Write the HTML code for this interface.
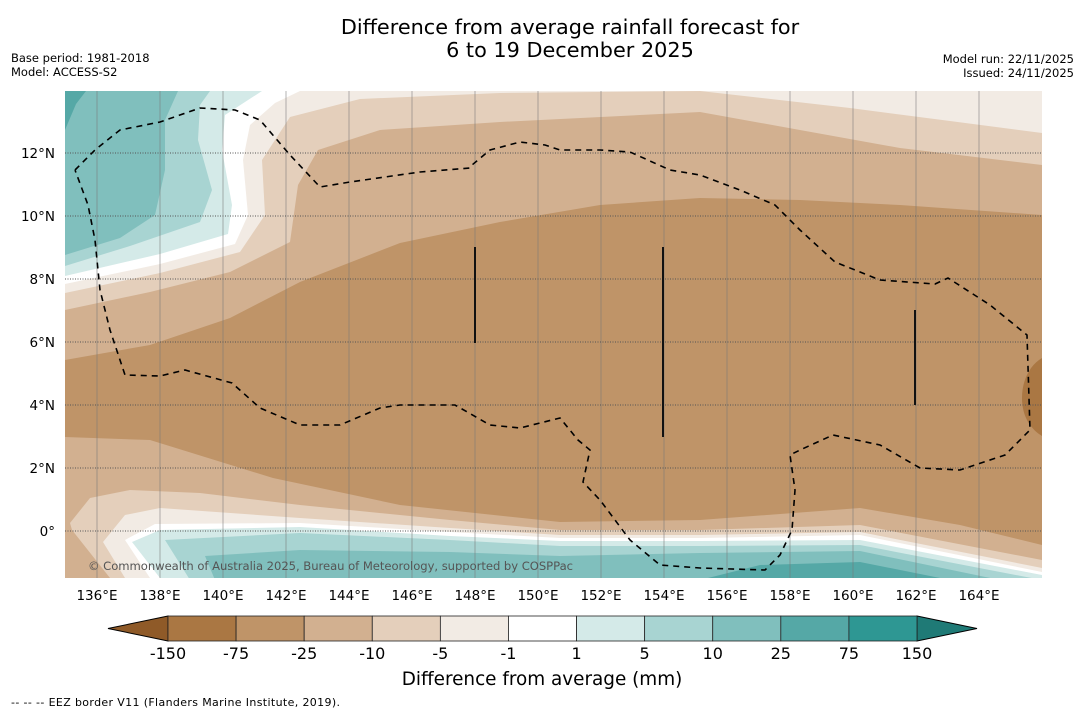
<!DOCTYPE html>
<html><head><meta charset="utf-8">
<style>
body{margin:0;background:#fff;width:1085px;height:713px;overflow:hidden;font-family:"DejaVu Sans","Liberation Sans",sans-serif;}
svg text{font-family:"DejaVu Sans","Liberation Sans",sans-serif;}
</style></head><body>
<svg id="chart" width="1085" height="713" viewBox="0 0 1085 713">
<text x="570" y="34" font-size="20.8" text-anchor="middle">Difference from average rainfall forecast for</text>
<text x="570" y="57" font-size="20.8" text-anchor="middle">6 to 19 December 2025</text>
<text x="11" y="62" font-size="11.5">Base period: 1981-2018</text>
<text x="11" y="76" font-size="11.5">Model: ACCESS-S2</text>
<text x="1074" y="63" font-size="11.5" text-anchor="end">Model run: 22/11/2025</text>
<text x="1074" y="77" font-size="11.5" text-anchor="end">Issued: 24/11/2025</text>
<defs><clipPath id="mapclip"><rect x="65" y="91" width="977" height="487"/></clipPath></defs>
<g id="map" clip-path="url(#mapclip)">
<rect x="65" y="91" width="977" height="487" fill="#d2b090"/>
<polygon fill="#bf9468" points="65,360 150,345 230,318 300,282 400,243 500,222 600,205 700,198 800,200 900,205 1042,215 1042,545 960,525 860,508 700,520 560,522 400,505 273,478 150,440 65,437"/>
<path fill="#aa7743" d="M1042,358 C1030,365 1022,380 1022,398 C1022,418 1032,430 1042,436 Z"/>
<polygon fill="#e4cfbb" points="65,310 150,292 230,272 290,242 298,185 318,150 380,130 500,122 700,112 900,148 1042,165 1042,91 65,91"/>
<polygon fill="#f2ebe4" points="65,293 160,273 240,252 265,215 262,160 290,117 360,99 500,93 700,91 850,108 950,121 1042,133 1042,91 65,91"/>
<polygon fill="#ffffff" points="65,284 160,264 235,244 248,215 243,160 250,125 275,103 300,91 65,91"/>
<polygon fill="#d4eae8" points="65,276 160,254 228,234 232,205 222,150 225,115 262,91 65,91"/>
<polygon fill="#a8d4d2" points="65,266 130,246 200,222 212,190 198,140 200,105 210,91 65,91"/>
<polygon fill="#80bfbd" points="65,255 120,238 155,215 165,170 165,120 178,91 65,91"/>
<polygon fill="#55a8a6" points="65,130 76,104 86,91 65,91"/>
<polygon fill="#e4cfbb" points="70,523 90,498 130,490 200,493 300,505 450,520 560,530 700,530 860,525 1042,560 1042,578 110,578 72,530"/>
<polygon fill="#f2ebe4" points="103,542 125,515 160,508 300,518 450,528 560,535 700,535 860,532 1042,568 1042,578 125,578"/>
<polygon fill="#ffffff" points="125,540 155,524 300,523 450,532 560,538 700,538 860,535 1042,572 1042,578 150,578"/>
<polygon fill="#d4eae8" points="132,542 160,530 300,527 450,536 560,541 700,541 860,540 1042,575 1042,578 160,578"/>
<polygon fill="#a8d4d2" points="165,540 300,533 450,540 560,546 700,546 860,545 1042,580 190,580"/>
<polygon fill="#80bfbd" points="205,556 300,550 450,552 560,556 700,553 860,551 1000,580 215,580"/>
<polygon fill="#55a8a6" points="700,580 760,565 860,562 950,580"/>
<g id="grid"></g>
<polyline fill="none" stroke="#000" stroke-width="1.6" stroke-dasharray="6,5" points="75,170 95,150 120,130 160,122 200,108 235,110 260,120 290,155 320,187 350,182 420,172 470,168 472,165 490,150 520,142 545,145 560,150 600,150 630,152 670,170 700,175 740,190 775,205 800,230 835,262 880,280 935,284 948,278 990,305 1027,335 1030,430 1005,455 960,470 920,468 880,445 833,435 800,450 790,455 795,490 792,530 780,555 765,570 700,568 660,565 630,540 600,500 583,482 590,450 578,440 560,418 520,428 490,425 455,405 400,405 380,408 340,425 300,425 260,408 232,383 185,370 160,376 125,375 110,330 100,290 95,240 88,205 75,170"/>
<line x1="475" y1="247" x2="475" y2="343" stroke="#111" stroke-width="2"/>
<line x1="663" y1="247" x2="663" y2="437" stroke="#111" stroke-width="2"/>
<line x1="915" y1="310" x2="915" y2="405" stroke="#111" stroke-width="2"/>
<text x="88" y="570" font-size="11.6" fill="#555" textLength="485">© Commonwealth of Australia 2025, Bureau of Meteorology, supported by COSPPac</text>
</g>
<g id="axes"></g>
<g id="cbar"></g>
<text x="542" y="685" font-size="18.4" text-anchor="middle">Difference from average (mm)</text>
<text x="11" y="706" font-size="11" textLength="329">--  --  -- EEZ border V11 (Flanders Marine Institute, 2019).</text>
</svg>
<script>
const lonTicks=[136,138,140,142,144,146,148,150,152,154,156,158,160,162,164];
const latTicks=[0,2,4,6,8,10,12];
const cbarLevels=["-150","-75","-25","-10","-5","-1","1","5","10","25","75","150"];
const cbarColors=["#aa7743","#bf9468","#d2b090","#e4cfbb","#f2ebe4","#ffffff","#d4eae8","#a8d4d2","#80bfbd","#55a8a6","#2e9793"];
const NS="http://www.w3.org/2000/svg";
function xLon(l){return 97+(l-136)*31.5;}
function yLat(l){return 531-l*31.5;}
function mk(t,a,p){const e=document.createElementNS(NS,t);for(const k in a)e.setAttribute(k,a[k]);p.appendChild(e);return e;}
const grid=document.getElementById('grid'),axes=document.getElementById('axes');
lonTicks.forEach(l=>{const x=xLon(l);
 const g=mk('line',{x1:x,y1:91,x2:x,y2:578,stroke:'#777','stroke-width':0.8,'stroke-opacity':0.7},grid);
 
 
 const t=mk('text',{x:x,y:600,'font-size':13.5,'text-anchor':'middle'},axes);t.textContent=l+'°E';
 
 });
latTicks.forEach(l=>{const y=yLat(l);
 const g=mk('line',{x1:65,y1:y,x2:1042,y2:y,stroke:'#555','stroke-width':0.9,'stroke-dasharray':'1,1.5'},grid);
 
 
 const t=mk('text',{x:55,y:y+5,'font-size':13.5,'text-anchor':'end'},axes);t.textContent=l===0?'0°':l+'°N';
 
 });
const cb=document.getElementById('cbar');const x0=168,x1=917,y0=616,h=25;const w=(x1-x0)/cbarColors.length;
const la=mk('polygon',{points:`108,${y0+h/2} ${x0},${y0} ${x0},${y0+h}`,fill:'#8f5a28',stroke:'#000','stroke-width':1},cb);


const ra=mk('polygon',{points:`977,${y0+h/2} ${x1},${y0} ${x1},${y0+h}`,fill:'#1f7a76',stroke:'#000','stroke-width':1},cb);


cbarColors.forEach((c,i)=>{const r=mk('rect',{x:x0+i*w,y:y0,width:w,height:h,fill:c,stroke:'#222','stroke-width':0.8},cb);
 
 });
cbarLevels.forEach((v,i)=>{const t=mk('text',{x:x0+i*w,y:659,'font-size':16,'text-anchor':'middle'},cb);t.textContent=v;
 
 });
</script>
</body></html>
